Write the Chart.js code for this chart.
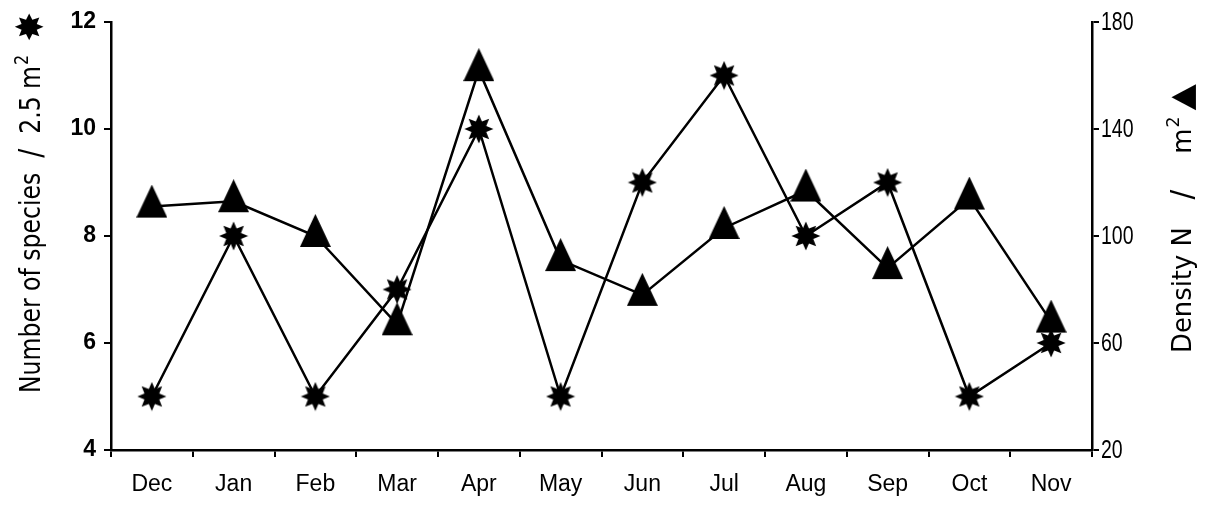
<!DOCTYPE html>
<html>
<head>
<meta charset="utf-8">
<script src="https://cdn.jsdelivr.net/npm/chart.js@4"></script>
<style>
  html, body { margin: 0; padding: 0; background: #fff; }
  #wrap { width: 1206px; height: 506px; position: relative; }
</style>
</head>
<body>
<div id="wrap"><canvas id="chart"></canvas></div>
<script>
// DATA
const months = ["Dec", "Jan", "Feb", "Mar", "Apr", "May", "Jun", "Jul", "Aug", "Sep", "Oct", "Nov"];
const species = [5, 8, 5, 7, 10, 5, 9, 11, 8, 9, 5, 6];
const density = [111, 113, 100, 67, 162, 91, 78, 103, 117, 88, 114, 68];
const speciesTicks = [4, 6, 8, 10, 12];
const densityTicks = [20, 60, 100, 140, 180];

const NARROW = "'Liberation Sans Narrow', 'DejaVu Sans Condensed', sans-serif";

// marker images
function starMarker() {
  const c = document.createElement("canvas");
  c.width = 30; c.height = 30;
  const g = c.getContext("2d");
  g.beginPath();
  for (let i = 0; i < 16; i++) {
    const r = i % 2 === 0 ? 14.5 : 8;
    const a = -Math.PI / 2 + i * Math.PI / 8;
    const px = 15 + r * Math.cos(a), py = 15 + r * Math.sin(a);
    if (i === 0) g.moveTo(px, py); else g.lineTo(px, py);
  }
  g.closePath();
  g.fillStyle = "#000";
  g.fill();
  return c;
}

function triangleMarker() {
  const w = 31, h = 33;
  const c = document.createElement("canvas");
  c.width = w; c.height = Math.round(h * 4 / 3);
  const g = c.getContext("2d");
  g.beginPath();
  g.moveTo(w / 2, 0);
  g.lineTo(w, h);
  g.lineTo(0, h);
  g.closePath();
  g.fillStyle = "#000";
  g.fill();
  return c;
}

// rotated title, reading bottom to top, squeezed to fit between startY and endY
// piece: [text, font, gapAfter, raise]
function drawVerticalTitle(ctx, cx, startY, endY, pieces) {
  let total = 0;
  const widths = pieces.map(([text, font, gap]) => {
    ctx.font = font;
    const w = ctx.measureText(text).width;
    total += w + (gap || 0);
    return w;
  });
  total -= pieces[pieces.length - 1][2] || 0;
  const k = (startY - endY) / total;
  let y = startY;
  pieces.forEach(([text, font, gap, raise], i) => {
    ctx.save();
    ctx.font = font;
    ctx.translate(cx - (raise || 0), y);
    ctx.rotate(-Math.PI / 2);
    ctx.scale(k, 1);
    ctx.fillText(text, 0, 0);
    ctx.restore();
    y -= (widths[i] + (gap || 0)) * k;
  });
}

const axisTitles = {
  id: "axisTitles",
  afterDraw(chart) {
    const ctx = chart.ctx;
    ctx.save();
    ctx.fillStyle = "#000";
    ctx.textAlign = "left";
    ctx.textBaseline = "middle";

    const f28 = "28px " + NARROW;
    drawVerticalTitle(ctx, 33, 393, 12, [
      ["Number of species", f28, 16],
      ["/", "32px " + NARROW, 16],
      ["2.5 m", f28, 1],
      ["2", "19px " + NARROW, 14, 10],
      ["\u2738", "38px 'DejaVu Sans', sans-serif", 0]
    ]);

    const f27 = "27px " + NARROW;
    drawVerticalTitle(ctx, 1184, 353, 84, [
      ["Density N", f27, 26],
      ["/", "30px " + NARROW, 34],
      ["m", f27, 1],
      ["2", "18px " + NARROW, 6, 10],
      ["\u25B2", "32px 'DejaVu Sans', sans-serif", 0]
    ]);

    // right tick labels, narrow
    const s = chart.scales.y1;
    ctx.font = "25px 'Liberation Sans', sans-serif";
    densityTicks.forEach(v => {
      const y = s.getPixelForValue(v);
      ctx.save();
      ctx.translate(s.left + 9, y + 1);
      ctx.scale(0.78, 1);
      ctx.fillText(String(v), 0, 0);
      ctx.restore();
    });

    ctx.restore();
  }
};

const tickGrid = {
  drawOnChartArea: false,
  drawTicks: true,
  tickLength: 7,
  color: "#000",
  lineWidth: 2
};

new Chart(document.getElementById("chart"), {
  type: "line",
  data: {
    labels: months,
    datasets: [
      {
        label: "Species",
        data: species,
        yAxisID: "y",
        borderColor: "#000",
        borderWidth: 2.5,
        pointStyle: starMarker(),
        pointRadius: 14,
        tension: 0
      },
      {
        label: "Density",
        data: density,
        yAxisID: "y1",
        borderColor: "#000",
        borderWidth: 2.5,
        pointStyle: triangleMarker(),
        pointRadius: 16,
        tension: 0
      }
    ]
  },
  options: {
    responsive: true,
    maintainAspectRatio: false,
    animation: false,
    layout: { padding: { top: 22, left: 0, right: 0, bottom: 0 } },
    plugins: { legend: { display: false }, tooltip: { enabled: false } },
    scales: {
      x: {
        offset: true,
        grid: Object.assign({}, tickGrid, { offset: true }),
        border: { color: "#000", width: 2.5 },
        ticks: {
          color: "#000",
          padding: 14,
          maxRotation: 0,
          font: { family: "'Liberation Sans', Arial, sans-serif", size: 23 }
        },
        afterFit(s) { s.height = 56; }
      },
      y: {
        position: "left",
        min: 4, max: 12,
        afterBuildTicks(s) { s.ticks = speciesTicks.map(v => ({ value: v })); },
        grid: tickGrid,
        border: { color: "#000", width: 2.5 },
        ticks: {
          color: "#000",
          padding: 8,
          font: { family: "'Liberation Sans', Arial, sans-serif", size: 23, weight: "bold" }
        },
        afterFit(s) { s.width = 111; }
      },
      y1: {
        position: "right",
        min: 20, max: 180,
        afterBuildTicks(s) { s.ticks = densityTicks.map(v => ({ value: v })); },
        grid: tickGrid,
        border: { color: "#000", width: 2.5 },
        ticks: { display: false },
        afterFit(s) { s.width = 114; }
      }
    }
  },
  plugins: [axisTitles]
});
</script>
</body>
</html>
